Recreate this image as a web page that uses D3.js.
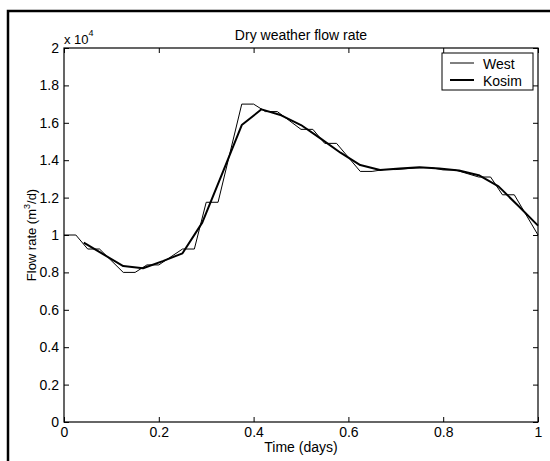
<!DOCTYPE html>
<html>
<head>
<meta charset="utf-8">
<script src="https://cdn.jsdelivr.net/npm/d3@7"></script>
<style>
  body { margin: 0; background: #fff; }
  text { font-family: Arial, "Liberation Sans", Helvetica, sans-serif; fill: #000; }
</style>
</head>
<body>
<svg id="chart"></svg>
<script>
// West model: held values with ramps in between (time in days, flow in m3/d)
var westTime = [0, 0.025, 0.05, 0.075, 0.125, 0.15, 0.175, 0.2, 0.25, 0.275,
  0.3, 0.325, 0.375, 0.4, 0.425, 0.45, 0.5, 0.525, 0.55, 0.575,
  0.625, 0.65, 0.675, 0.7, 0.75, 0.775, 0.8, 0.825, 0.875, 0.9,
  0.925, 0.95, 1.0];
var westFlow = [10000, 10000, 9250, 9250, 8000, 8000, 8400, 8400, 9250, 9250,
  11750, 11750, 17000, 17000, 16600, 16600, 15650, 15650, 14900, 14900,
  13400, 13400, 13500, 13500, 13600, 13600, 13480, 13480, 13100, 13100,
  12150, 12150, 10000];

// Kosim model: hourly values
var kosimHour = [1, 2, 3, 4, 5, 6, 7, 8, 9, 10, 11, 12,
  13, 14, 15, 16, 17, 18, 19, 20, 21, 22, 23, 24];
var kosimFlow = [9590, 8960, 8340, 8220, 8600, 9020, 10660, 13250, 15880, 16720, 16400, 15880,
  15150, 14400, 13740, 13480, 13550, 13620, 13560, 13450, 13200, 12600, 11560, 10500];

var xTicks = [0, 0.2, 0.4, 0.6, 0.8, 1];
var yTicks = [0, 2000, 4000, 6000, 8000, 10000, 12000, 14000, 16000, 18000, 20000];

draw();

function draw() {
  var width = 550, height = 461;
  var x0 = 64, x1 = 538, y0 = 48, y1 = 422; // plot box
  var fs = 14;

  var svg = d3.select("#chart").attr("width", width).attr("height", height);

  // figure frame (only left and top edges show)
  svg.append("path")
    .attr("d", "M8,461V11H550")
    .attr("fill", "none")
    .attr("stroke", "#000")
    .attr("stroke-width", 2.5);

  var x = d3.scaleLinear().domain([0, 1]).range([x0, x1]);
  var y = d3.scaleLinear().domain([0, 20000]).range([y1, y0]);

  var fmtY = (d) => String(+(d / 10000).toFixed(1));
  var fmtX = (d) => String(d);

  function styleAxis(g) {
    g.select(".domain").remove();
    g.selectAll(".tick line").attr("stroke", "#000").attr("stroke-width", 1);
    g.selectAll(".tick text").attr("font-size", fs).attr("fill", "#000")
      .attr("font-family", "Arial, 'Liberation Sans', sans-serif");
  }

  svg.append("g").attr("transform", `translate(0,${y1})`)
    .call(d3.axisBottom(x).tickValues(xTicks).tickFormat(fmtX).tickSizeInner(-5).tickSizeOuter(0).tickPadding(5))
    .call(styleAxis);
  svg.append("g").attr("transform", `translate(0,${y0})`)
    .call(d3.axisTop(x).tickValues(xTicks).tickFormat("").tickSizeInner(-5).tickSizeOuter(0))
    .call(styleAxis);
  svg.append("g").attr("transform", `translate(${x0},0)`)
    .call(d3.axisLeft(y).tickValues(yTicks).tickFormat(fmtY).tickSizeInner(-5).tickSizeOuter(0).tickPadding(5))
    .call(styleAxis);
  svg.append("g").attr("transform", `translate(${x1},0)`)
    .call(d3.axisRight(y).tickValues(yTicks).tickFormat("").tickSizeInner(-5).tickSizeOuter(0))
    .call(styleAxis);

  svg.append("rect")
    .attr("x", x0).attr("y", y0)
    .attr("width", x1 - x0).attr("height", y1 - y0)
    .attr("fill", "none").attr("stroke", "#000").attr("stroke-width", 1.2);

  var west = westTime.map((t, i) => [t, westFlow[i]]);
  var kosim = kosimHour.map((h, i) => [h / 24, kosimFlow[i]]);

  var line = d3.line().x(d => x(d[0])).y(d => y(d[1]));

  svg.append("path").datum(west)
    .attr("d", line).attr("fill", "none")
    .attr("stroke", "#000").attr("stroke-width", 1);

  svg.append("path").datum(kosim)
    .attr("d", line).attr("fill", "none")
    .attr("stroke", "#000").attr("stroke-width", 2)
    .attr("stroke-linejoin", "round");

  // exponent label
  var expo = svg.append("text").attr("x", x0).attr("y", 44).attr("font-size", 13);
  expo.append("tspan").text("x 10");
  expo.append("tspan").attr("font-size", 9).attr("dy", -8).text("4");

  // title and axis labels
  svg.append("text").attr("x", 301).attr("y", 40)
    .attr("text-anchor", "middle").attr("font-size", fs).text("Dry weather flow rate");

  svg.append("text").attr("x", 301).attr("y", 452)
    .attr("text-anchor", "middle").attr("font-size", fs).text("Time (days)");

  var ylab = svg.append("text")
    .attr("transform", `translate(36,${(y0 + y1) / 2}) rotate(-90)`)
    .attr("text-anchor", "middle").attr("font-size", 13);
  ylab.append("tspan").text("Flow rate (m");
  ylab.append("tspan").attr("font-size", 9).attr("dy", -6).text("3");
  ylab.append("tspan").attr("dy", 6).text("/d)");

  // legend
  var legend = svg.append("g").attr("transform", "translate(442,53)");
  legend.append("rect").attr("width", 91).attr("height", 37)
    .attr("fill", "#fff").attr("stroke", "#000").attr("stroke-width", 1);
  var items = [["West", 1], ["Kosim", 2]];
  items.forEach(function(it, i) {
    var ly = 10 + i * 17;
    legend.append("line").attr("x1", 8).attr("x2", 32).attr("y1", ly).attr("y2", ly)
      .attr("stroke", "#000").attr("stroke-width", it[1]);
    legend.append("text").attr("x", 41).attr("y", ly + 6).attr("font-size", fs).text(it[0]);
  });
}
</script>
</body>
</html>
